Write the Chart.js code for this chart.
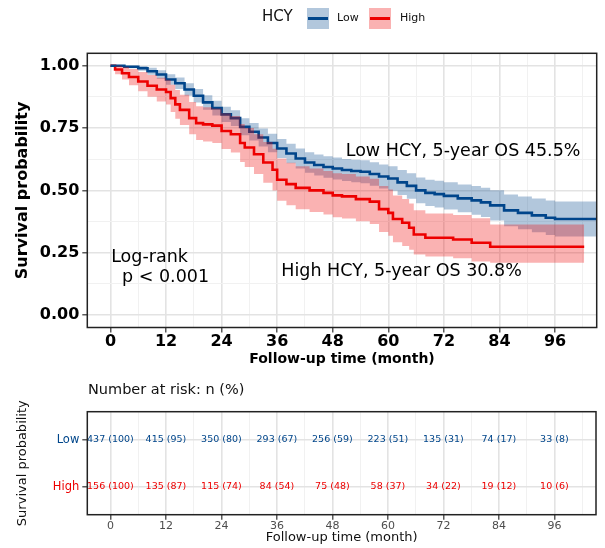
<!DOCTYPE html>
<html>
<head>
<meta charset="utf-8">
<script src="https://cdn.jsdelivr.net/npm/chart.js@4.4.1/dist/chart.umd.min.js"></script>
<style>
html,body{margin:0;padding:0;background:#fff;}
#wrap{position:relative;width:605px;height:548px;overflow:hidden;}
#c1{position:absolute;left:0;top:0;}
#c2{position:absolute;left:0;top:372px;}
</style>
</head>
<body>
<div id="wrap">
<canvas id="c1" width="605" height="372"></canvas>
<canvas id="c2" width="605" height="176"></canvas>
</div>
<script>
// ---------------- data ----------------
const lowTime  = [0,3,6,8,10,12,14,16,18,20,22,24,26,28,30,32,34,36,38,40,42,44,46,48,50,52,54,56,58,60,62,64,66,68,70,72,75,78,80,82,85,88,91,94,96,105];
const lowSurv  = [1.0,0.996,0.99,0.978,0.965,0.945,0.93,0.905,0.88,0.853,0.83,0.805,0.79,0.755,0.735,0.712,0.69,0.668,0.648,0.628,0.612,0.602,0.594,0.588,0.582,0.578,0.575,0.566,0.556,0.548,0.532,0.518,0.5,0.49,0.485,0.478,0.468,0.46,0.452,0.44,0.42,0.41,0.4,0.39,0.385,0.385];
const lowUpper = [1.0,1.0,0.999,0.992,0.982,0.966,0.953,0.93,0.907,0.882,0.86,0.836,0.822,0.789,0.77,0.748,0.727,0.706,0.687,0.668,0.653,0.644,0.637,0.632,0.626,0.623,0.621,0.613,0.604,0.597,0.582,0.569,0.552,0.543,0.539,0.533,0.524,0.518,0.511,0.501,0.484,0.476,0.468,0.459,0.455,0.455];
const lowLower = [1.0,0.99,0.98,0.964,0.948,0.924,0.907,0.88,0.853,0.824,0.8,0.774,0.758,0.721,0.7,0.676,0.653,0.63,0.609,0.588,0.571,0.56,0.551,0.544,0.538,0.533,0.529,0.519,0.508,0.499,0.482,0.467,0.448,0.437,0.431,0.423,0.412,0.402,0.393,0.379,0.356,0.344,0.332,0.321,0.315,0.315];

const highTime  = [0,1,2.5,4,6,8,10,12,13,14,15,17,18.5,20,22,24,26,28,29,31,33,35,36,38,40,43,46,48,50,53,56,58,60,61,63,64.5,65.5,68,74,78,82,102.3];
const highSurv  = [1.0,0.985,0.97,0.955,0.937,0.92,0.905,0.895,0.87,0.845,0.823,0.79,0.77,0.765,0.76,0.738,0.725,0.69,0.672,0.645,0.612,0.583,0.543,0.525,0.51,0.5,0.49,0.48,0.476,0.465,0.455,0.425,0.41,0.385,0.37,0.35,0.323,0.31,0.303,0.29,0.274,0.274];
const highUpper = [1.0,1.0,0.995,0.987,0.975,0.963,0.952,0.944,0.924,0.903,0.884,0.855,0.838,0.834,0.829,0.81,0.798,0.766,0.75,0.725,0.694,0.667,0.628,0.611,0.597,0.588,0.578,0.569,0.566,0.556,0.547,0.518,0.504,0.48,0.466,0.447,0.42,0.407,0.401,0.388,0.363,0.363];
const highLower = [1.0,0.966,0.945,0.922,0.898,0.876,0.857,0.845,0.815,0.787,0.762,0.725,0.702,0.696,0.69,0.666,0.652,0.614,0.594,0.566,0.531,0.5,0.458,0.44,0.424,0.413,0.403,0.392,0.387,0.376,0.365,0.333,0.318,0.292,0.277,0.262,0.243,0.235,0.228,0.215,0.21,0.21];

const xTicks = [0,12,24,36,48,60,72,84,96];
const xMinor = [6,18,30,42,54,66,78,90,102];
const yTicks = [0,0.25,0.5,0.75,1];
const yTickLabels = ['0.00','0.25','0.50','0.75','1.00'];
const yMinor = [0.125,0.375,0.625,0.875];

const groups = ['Low','High'];
const legendTitle = 'HCY';
const annoLow = 'Low HCY, 5-year OS 45.5%';
const annoHigh = 'High HCY, 5-year OS 30.8%';
const annoTest = ['Log-rank','p < 0.001'];

const riskTimes = [0,12,24,36,48,60,72,84,96];
const lowN   = [437,415,350,293,256,223,135,74,33];
const lowPct = [100,95,80,67,59,51,31,17,8];
const highN   = [156,135,115,84,75,58,34,19,10];
const highPct = [100,87,74,54,48,37,22,12,6];

// ---------------- styling ----------------
const FONT = "'DejaVu Sans', sans-serif";
Chart.defaults.font.family = FONT;
const BLUE = '#00468B', RED = '#ED0000';
const BLUE_FILL = 'rgba(0,70,139,0.3)', RED_FILL = 'rgba(237,0,0,0.3)';
const NONE = 'rgba(0,0,0,0)';
const MAJ = '#e3e3e3', MIN = '#f1f1f1';

function pts(ts, vs){ return ts.map((t,i)=>({x:t, y:vs[i]})); }
const xAll = xTicks.concat(xMinor).sort((a,b)=>a-b);
const yAll = yTicks.concat(yMinor).sort((a,b)=>a-b);
const isMajX = v => xTicks.indexOf(v) >= 0;
const isMajY = v => yTicks.indexOf(v) >= 0;

const framePlugin = {
  id:'frame',
  afterDraw(chart){
    const {ctx, chartArea:a} = chart;
    ctx.save();
    ctx.strokeStyle = '#222';
    ctx.lineWidth = 1.5;
    ctx.strokeRect(a.left, a.top, a.right-a.left, a.bottom-a.top);
    ctx.restore();
  }
};

const mainText = {
  id:'mainText',
  afterDatasetsDraw(chart){
    const {ctx, scales:{x,y}} = chart;
    ctx.save();
    ctx.fillStyle = '#000';
    ctx.textAlign = 'left';
    ctx.textBaseline = 'alphabetic';
    ctx.font = '17.5px ' + FONT;
    ctx.fillText(annoLow, x.getPixelForValue(50.8), y.getPixelForValue(0.639));
    ctx.fillText(annoHigh, x.getPixelForValue(36.9), y.getPixelForValue(0.155));
    ctx.fillText(annoTest[0], x.getPixelForValue(0.15), y.getPixelForValue(0.211));
    ctx.fillText(annoTest[1], x.getPixelForValue(2.5), y.getPixelForValue(0.131));
    ctx.restore();
  },
  afterDraw(chart){
    const ctx = chart.ctx;
    ctx.save();
    ctx.textBaseline = 'middle';
    ctx.textAlign = 'left';
    ctx.fillStyle = '#111';
    ctx.font = '15px ' + FONT;
    ctx.fillText(legendTitle, 262, 17.5);
    const keys = [{x:307, c:BLUE, f:BLUE_FILL, tx:337, t:groups[0]}, {x:369, c:RED, f:RED_FILL, tx:400, t:groups[1]}];
    keys.forEach(k=>{
      ctx.fillStyle = k.f;
      ctx.fillRect(k.x, 8, 22, 21);
      ctx.strokeStyle = k.c;
      ctx.lineWidth = 3;
      ctx.beginPath(); ctx.moveTo(k.x+1, 18.5); ctx.lineTo(k.x+21, 18.5); ctx.stroke();
      ctx.fillStyle = '#111';
      ctx.font = '11px ' + FONT;
      ctx.fillText(k.t, k.tx, 18.5);
    });
    ctx.restore();
  }
};

new Chart(document.getElementById('c1'), {
  type:'line',
  data:{
    datasets:[
      {label:groups[0], data:pts(lowTime, lowSurv), borderColor:BLUE, borderWidth:2.6, stepped:true, pointRadius:0, fill:false, order:10},
      {label:groups[1], data:pts(highTime, highSurv), borderColor:RED, borderWidth:2.6, stepped:true, pointRadius:0, fill:false, order:10},
      {label:'Low upper', data:pts(lowTime, lowUpper), borderColor:NONE, backgroundColor:BLUE_FILL, borderWidth:1, stepped:true, pointRadius:0, fill:'+1', order:5},
      {label:'Low lower', data:pts(lowTime, lowLower), borderColor:NONE, borderWidth:1, stepped:true, pointRadius:0, fill:false, order:5},
      {label:'High upper', data:pts(highTime, highUpper), borderColor:NONE, backgroundColor:RED_FILL, borderWidth:1, stepped:true, pointRadius:0, fill:'+1', order:1},
      {label:'High lower', data:pts(highTime, highLower), borderColor:NONE, borderWidth:1, stepped:true, pointRadius:0, fill:false, order:1}
    ]
  },
  options:{
    responsive:false, animation:false,
    layout:{padding:{left:0, right:8.3, top:53.3, bottom:0}},
    plugins:{legend:{display:false}, tooltip:{enabled:false}},
    scales:{
      x:{
        type:'linear', min:-5, max:105,
        afterBuildTicks: s => { s.ticks = xAll.map(v=>({value:v})); },
        afterFit: s => { s.height = 44.5; },
        ticks:{autoSkip:false, maxRotation:0, padding:0, color:'#000', font:{size:16, weight:'bold'},
          callback: v => isMajX(v) ? String(v) : ''},
        grid:{color: c => isMajX(c.tick.value) ? MAJ : MIN, lineWidth: c => isMajX(c.tick.value) ? 1.6 : 1,
          tickLength:5, tickColor: c => isMajX(c.tick.value) ? '#333' : NONE, tickWidth:1.2},
        border:{display:false},
        title:{display:true, text:'Follow-up time (month)', color:'#000', font:{size:14, weight:'bold'}, padding:{top:0, bottom:4.6}}
      },
      y:{
        type:'linear', min:-0.05, max:1.05,
        afterBuildTicks: s => { s.ticks = yAll.map(v=>({value:v})); },
        afterFit: s => { s.width = 87.3; },
        ticks:{autoSkip:false, padding:3, color:'#000', font:{size:16, weight:'bold'},
          callback: v => { const i = yTicks.indexOf(v); return i >= 0 ? yTickLabels[i] : ''; }},
        grid:{color: c => isMajY(c.tick.value) ? MAJ : MIN, lineWidth: c => isMajY(c.tick.value) ? 1.6 : 1,
          tickLength:5, tickColor: c => isMajY(c.tick.value) ? '#333' : NONE, tickWidth:1.2},
        border:{display:false},
        title:{display:true, text:'Survival probability', color:'#000', font:{size:16, weight:'bold'}, padding:{top:12.9, bottom:0}}
      }
    }
  },
  plugins:[framePlugin, mainText]
});

// ---------------- risk table ----------------
const riskRowY = {Low:2, High:1};
const riskText = {
  id:'riskText',
  afterDatasetsDraw(chart){
    const ctx = chart.ctx;
    ctx.save();
    ctx.textAlign = 'center';
    ctx.textBaseline = 'middle';
    ctx.font = '9.5px ' + FONT;
    chart.data.datasets.forEach((ds, di) => {
      const meta = chart.getDatasetMeta(di);
      ctx.fillStyle = ds.textColor;
      meta.data.forEach((el, i) => {
        ctx.fillText(ds.labels[i], el.x, el.y);
      });
    });
    ctx.restore();
  },
  afterDraw(chart){
    const ctx = chart.ctx;
    ctx.save();
    ctx.textAlign = 'left';
    ctx.textBaseline = 'middle';
    ctx.fillStyle = '#111';
    ctx.font = '14.5px ' + FONT;
    ctx.fillText('Number at risk: n (%)', 88, 18);
    ctx.restore();
  }
};

new Chart(document.getElementById('c2'), {
  type:'scatter',
  data:{
    datasets:[
      {label:groups[0], data:riskTimes.map(t=>({x:t, y:riskRowY.Low})), pointRadius:0, showLine:false,
        textColor:BLUE, labels:lowN.map((n,i)=>n+' ('+lowPct[i]+')')},
      {label:groups[1], data:riskTimes.map(t=>({x:t, y:riskRowY.High})), pointRadius:0, showLine:false,
        textColor:RED, labels:highN.map((n,i)=>n+' ('+highPct[i]+')')}
    ]
  },
  options:{
    responsive:false, animation:false,
    layout:{padding:{left:0, right:9, top:39.7, bottom:0}},
    plugins:{legend:{display:false}, tooltip:{enabled:false}},
    scales:{
      x:{
        type:'linear', min:-5, max:105,
        afterBuildTicks: s => { s.ticks = xAll.map(v=>({value:v})); },
        afterFit: s => { s.height = 33.3; },
        ticks:{autoSkip:false, maxRotation:0, padding:0, color:'#4d4d4d', font:{size:11},
          callback: v => isMajX(v) ? String(v) : ''},
        grid:{color: c => isMajX(c.tick.value) ? MAJ : MIN, lineWidth: c => isMajX(c.tick.value) ? 1.6 : 1,
          tickLength:5, tickColor: c => isMajX(c.tick.value) ? '#333' : NONE, tickWidth:1.2},
        border:{display:false},
        title:{display:true, text:'Follow-up time (month)', color:'#111', font:{size:13}, padding:{top:0, bottom:2.2}}
      },
      y:{
        type:'linear', min:0.4, max:2.6,
        afterBuildTicks: s => { s.ticks = [1,2].map(v=>({value:v})); },
        afterFit: s => { s.width = 87.3; },
        ticks:{autoSkip:false, padding:3, font:{size:11.5},
          color: c => c.tick && c.tick.value === riskRowY.Low ? BLUE : RED,
          callback: v => v === riskRowY.Low ? groups[0] : groups[1]},
        grid:{color:MAJ, lineWidth:1.6, tickLength:5, tickColor:'#333', tickWidth:1.2},
        border:{display:false},
        title:{display:true, text:'Survival probability', color:'#111', font:{size:13}, padding:{top:15.2, bottom:0}}
      }
    }
  },
  plugins:[framePlugin, riskText]
});
</script>
</body>
</html>
